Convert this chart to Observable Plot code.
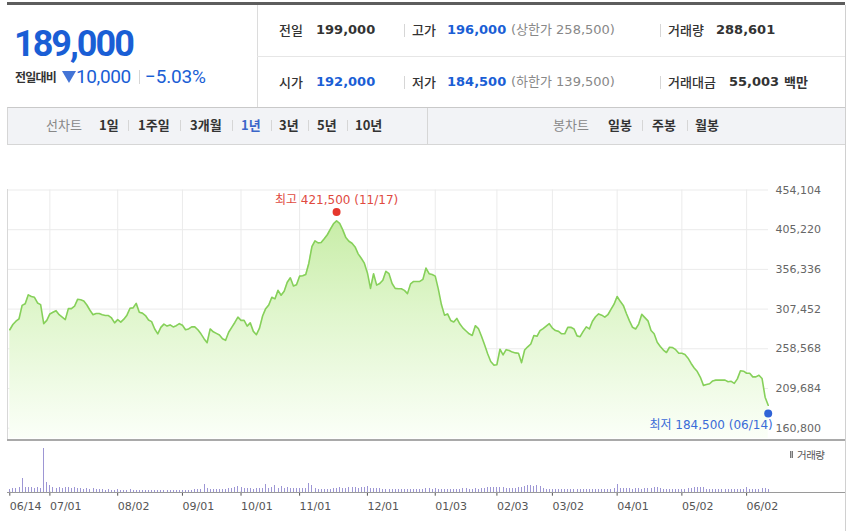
<!DOCTYPE html>
<html><head><meta charset="utf-8">
<script src="https://cdn.jsdelivr.net/npm/d3@7"></script>
<script src="https://cdn.jsdelivr.net/npm/@observablehq/plot@0.6"></script>
<style>
html,body{margin:0;padding:0;background:#fff;}
#wrap{position:relative;width:850px;height:531px;overflow:hidden;font-family:"Noto Sans CJK KR",sans-serif;color:#333;}
.a{position:absolute;white-space:nowrap;}
.ln{position:absolute;}
.num{font-family:"DejaVu Sans","Noto Sans CJK KR",sans-serif;}
.rb{font-family:Roboto,"Noto Sans CJK KR",sans-serif;}
.sep{position:absolute;width:1px;background:#d6d6d6;}
.blue{color:#1a5ed5;}
.r1{top:20px;line-height:20px;height:20px;}
.r2{top:72px;line-height:20px;height:20px;}
.tb{top:115px;line-height:20px;height:20px;font-size:13px;font-weight:700;color:#333;}
.tg{font-weight:400;color:#888;}
.lab{font-size:13px;color:#333;font-weight:500;}
.bn{font-size:13px;font-weight:700;}
.gr{font-size:13px;color:#888;}
#vol svg text{text-anchor:start;}
</style></head>
<body>
<div id="wrap">
  <!-- header -->
  <div class="ln" style="left:7px;top:2px;width:838px;height:3px;background:#5d5d5d"></div>
  <div class="a rb blue" style="left:14px;top:23.5px;line-height:40px;font-size:36px;font-weight:700;letter-spacing:-2px">189,000</div>
  <div class="a" style="left:15px;top:69px;line-height:16px;font-size:12px;font-weight:700;letter-spacing:-0.8px;color:#333">전일대비</div>
  <div class="ln" style="left:62px;top:71px;width:0;height:0;border-left:7.5px solid transparent;border-right:7.5px solid transparent;border-top:12px solid #4374d6"></div>
  <div class="a rb blue" style="left:76px;top:65px;line-height:24px;font-size:19px;letter-spacing:-0.4px">10,000</div>
  <div class="sep" style="left:139px;top:70px;height:14px"></div>
  <div class="a rb blue" style="left:145px;top:65px;line-height:24px;font-size:19px;letter-spacing:-0.2px">−5.03%</div>

  <div class="ln" style="left:257px;top:5px;width:1px;height:102px;background:#dcdcdc"></div>
  <div class="ln" style="left:257px;top:56px;width:588px;height:1px;background:#e6e6e6"></div>
  <div class="ln" style="left:845px;top:5px;width:1px;height:526px;background:#d0d0d0"></div>

  <div class="a r1 lab" style="left:279px">전일</div>
  <div class="a r1 num bn" style="left:316px">199,000</div>
  <div class="sep" style="left:404px;top:24px;height:13px"></div>
  <div class="a r1 lab" style="left:412px">고가</div>
  <div class="a r1 num bn blue" style="left:447px">196,000</div>
  <div class="a r1 num gr" style="left:511px">(상한가 258,500)</div>
  <div class="sep" style="left:660px;top:24px;height:13px"></div>
  <div class="a r1 lab" style="left:668px">거래량</div>
  <div class="a r1 num bn" style="left:716px">288,601</div>

  <div class="a r2 lab" style="left:279px">시가</div>
  <div class="a r2 num bn blue" style="left:316px">192,000</div>
  <div class="sep" style="left:404px;top:76px;height:13px"></div>
  <div class="a r2 lab" style="left:412px">저가</div>
  <div class="a r2 num bn blue" style="left:447px">184,500</div>
  <div class="a r2 num gr" style="left:511px">(하한가 139,500)</div>
  <div class="sep" style="left:660px;top:76px;height:13px"></div>
  <div class="a r2 lab" style="left:668px">거래대금</div>
  <div class="a r2 num bn" style="left:729px">55,003</div>
  <div class="a r2 lab" style="left:784px;font-weight:700">백만</div>

  <!-- tab bar -->
  <div class="ln" style="left:7px;top:107px;width:838px;background:#f2f3f6;border-top:1px solid #c9c9c9;border-bottom:1px solid #d6d6d6;border-left:1px solid #d6d6d6;box-sizing:border-box;height:38px"></div>
  <div class="ln" style="left:427px;top:108px;width:1px;height:36px;background:#d6d6d6"></div>
  <div class="a tb tg" style="left:46px">선차트</div>
  <div class="a tb" style="left:99px">1일</div>
  <div class="sep" style="left:128px;top:120px;height:11px"></div>
  <div class="a tb" style="left:138px">1주일</div>
  <div class="sep" style="left:180px;top:120px;height:11px"></div>
  <div class="a tb" style="left:190px">3개월</div>
  <div class="sep" style="left:232px;top:120px;height:11px"></div>
  <div class="a tb" style="left:241px;color:#3b66c9">1년</div>
  <div class="sep" style="left:271px;top:120px;height:11px"></div>
  <div class="a tb" style="left:279px">3년</div>
  <div class="sep" style="left:308px;top:120px;height:11px"></div>
  <div class="a tb" style="left:317px">5년</div>
  <div class="sep" style="left:347px;top:120px;height:11px"></div>
  <div class="a tb" style="left:355px">10년</div>
  <div class="a tb tg" style="left:553px">봉차트</div>
  <div class="a tb" style="left:608px">일봉</div>
  <div class="sep" style="left:642px;top:120px;height:11px"></div>
  <div class="a tb" style="left:652px">주봉</div>
  <div class="sep" style="left:687px;top:120px;height:11px"></div>
  <div class="a tb" style="left:695px">월봉</div>

  <!-- charts -->
  <div id="price" class="ln" style="left:0;top:150px;width:850px;height:290px"></div>
  <div class="ln" style="left:7px;top:189px;width:1px;height:251px;background:#d8d8d8"></div>
  <div class="ln" style="left:7px;top:439px;width:838px;height:2px;background:#a9a9a9"></div>
  <div id="vol" class="ln" style="left:0;top:440px;width:850px;height:91px"></div>
  <div class="ln" style="left:790px;top:451px;width:1px;height:7px;border-left:1px solid #777;border-right:1px solid #777;background:#bbb"></div>
  <div class="a" style="left:797px;top:447px;line-height:16px;font-size:10.5px;letter-spacing:-0.5px;color:#555">거래량</div>
</div>
<script>
// ---- data (trading days 2021-06-14 .. 2022-06-14, index 0..246) ----
const closePrice = [
  282000,288500,292500,295500,312000,314000,325000,323000,322000,315000,
  313000,289500,293500,301500,303500,305500,300500,297500,294500,308000,
  308000,311000,319500,319000,317500,312500,306000,300500,302000,302000,
  300500,299500,299500,296500,290500,294500,291500,295000,300000,308500,
  309000,314500,303500,302500,299500,294000,292000,283000,277000,285000,
  289000,286500,288000,285500,287000,289500,287500,282000,283000,285500,
  285500,282000,277000,271000,266000,283000,279500,277500,275500,271000,
  269000,279000,285000,291000,297500,293500,293500,286500,290500,280000,
  276000,284000,299000,308000,312500,322000,320000,330500,324500,329500,
  340500,346000,336000,337500,348000,348500,350000,364000,384500,391500,
  389000,389500,394000,399000,406000,412500,416000,413000,405000,395500,
  391000,388500,384000,375500,370000,364000,352000,333000,351000,337000,
  339000,343000,354000,351000,339000,333000,332500,332500,330500,326500,
  338500,341500,341500,341500,344000,358000,351000,350000,348000,332000,
  313000,300000,301500,293500,291500,296000,289000,284000,280500,277000,
  275000,287000,283500,274000,263500,252500,243000,238500,239000,258000,
  251000,257500,256500,254500,253500,253000,241500,257000,261000,264500,
  275000,274000,281000,283500,286500,289500,284000,281000,280000,277000,
  277000,285000,285000,283000,274500,273500,280000,285500,283000,292500,
  298000,301500,300000,297500,300500,307000,313500,323000,317000,312000,
  302000,293000,285000,283000,289000,301000,297000,293000,281000,277000,
  266500,261500,257000,254000,260500,260000,257500,253000,253000,251500,
  247000,240500,235000,230500,223500,213500,214500,215500,219000,220000,
  220000,220000,220000,218000,218500,216000,221500,231500,231000,228500,
  228500,224000,224000,226000,222000,199000,189000
];
const volumeThousands = [
  320,430,420,530,1500,480,520,450,400,530,
  380,4600,1070,750,480,430,500,430,460,480,
  420,500,380,430,330,410,330,420,300,280,
  250,230,240,220,230,240,220,210,230,250,
  220,210,230,200,210,220,200,210,230,200,
  210,200,220,210,200,230,210,220,200,230,
  250,300,280,850,350,300,280,300,320,300,
  330,380,420,520,560,480,380,350,400,330,
  360,380,350,820,420,450,760,420,650,400,
  540,420,380,350,380,400,420,950,750,420,
  330,300,320,280,300,350,380,450,380,420,
  480,450,500,420,480,520,620,420,380,350,
  400,330,300,280,260,300,280,320,300,280,
  300,250,280,260,300,350,420,320,380,330,
  300,280,330,300,280,300,330,380,350,320,
  300,350,330,380,420,480,520,450,500,480,
  550,430,420,380,400,450,480,650,700,720,
  650,680,600,420,330,300,280,300,280,260,
  280,300,270,250,280,300,260,280,300,270,
  250,280,300,260,280,300,380,850,420,380,
  350,400,330,380,350,330,400,360,380,520,
  540,350,300,330,280,300,330,280,300,320,
  350,400,520,540,500,480,330,300,280,320,
  300,280,330,300,280,300,330,300,330,520,
  330,300,280,320,350,420,289
];
const dateTickIndex = [0, 13, 35, 56, 75, 94, 116, 138, 158, 176, 197, 218, 239];
const dateTickLabel = ["06/14","07/01","08/02","09/01","10/01","11/01","12/01","01/03","02/03","03/02","04/01","05/02","06/02"];
const priceTicks = [160800, 209684, 258568, 307452, 356336, 405220, 454104];
const priceFloor = 148100;
const highPoint = {index: 106, value: 421500, label: "최고 421,500 (11/17)"};
const lowPoint  = {index: 246, value: 184500, label: "최저 184,500 (06/14)"};

const series = closePrice.map((v, i) => ({index: i, close: v, volume: volumeThousands[i] * 1000}));
const numFont = "DejaVu Sans, Noto Sans CJK KR, sans-serif";
const fmt = d3.format(",");
const lastIdx = closePrice.length - 1;

const P = {w: 850, h: 290, mt: 39.5, mb: 2, ml: 7, mr: 82};
const price = Plot.plot({
  width: P.w, height: P.h, marginLeft: P.ml, marginRight: P.mr, marginTop: P.mt, marginBottom: P.mb,
  style: {background: "transparent", fontFamily: numFont, fontSize: "11px", color: "#666", overflow: "visible"},
  x: {domain: [0, lastIdx], range: [9.3, 767.7], axis: null},
  y: {domain: [priceFloor, priceTicks[priceTicks.length - 1]], axis: null},
  marks: [
    Plot.ruleY(priceTicks, {stroke: "#ebebeb"}),
    Plot.ruleX(dateTickIndex.slice(1), {stroke: "#ebebeb"}),
    Plot.areaY(series, {x: "index", y1: priceFloor, y2: "close", fill: "url(#priceGrad)"}),
    Plot.lineY(series, {x: "index", y: "close", stroke: "#86d05a", strokeWidth: 1.6}),
    Plot.text(priceTicks, {y: d => d, frameAnchor: "right", textAnchor: "start", dx: 7, text: d => fmt(d), fill: "#666", fontSize: 11}),
    Plot.dot([highPoint], {x: "index", y: "value", r: 4, fill: "#e6372d", dy: -4.5}),
    Plot.text([highPoint], {x: "index", y: "value", text: "label", dy: -16, fill: "#e04a3f", fontSize: 12}),
    Plot.dot([lowPoint], {x: "index", y: "value", r: 4, fill: "#2f63d6", dy: 4.5}),
    Plot.text([lowPoint], {x: "index", y: "value", text: "label", dy: 16.5, dx: 4.5, textAnchor: "end", fill: "#3a6bd8", fontSize: 12})
  ]
});
const NS = "http://www.w3.org/2000/svg";
const defs = document.createElementNS(NS, "defs");
defs.innerHTML = `<linearGradient id="priceGrad" gradientUnits="userSpaceOnUse" x1="0" y1="${P.mt}" x2="0" y2="${P.h - P.mb}">
  <stop offset="0" stop-color="#c0ea9b"/><stop offset="0.5" stop-color="#e0f6cd"/><stop offset="1" stop-color="#fbfff8"/></linearGradient>`;
price.insertBefore(defs, price.firstChild);
document.getElementById("price").appendChild(price);

const vol = Plot.plot({
  width: 850, height: 91, marginLeft: 7, marginRight: 5, marginTop: 0, marginBottom: 39.3,
  style: {background: "transparent", fontFamily: numFont, fontSize: "11px", color: "#555", overflow: "visible"},
  x: {domain: [0, lastIdx], range: [9.3, 767.7], ticks: dateTickIndex,
      tickFormat: d => dateTickLabel[dateTickIndex.indexOf(d)], tickSize: 4, tickPadding: 6, label: null},
  y: {domain: [0, 5480000], axis: null},
  marks: [
    Plot.ruleX(series, {x: "index", y1: 0, y2: "volume", stroke: "#9d96d4", strokeWidth: 1, shapeRendering: "crispEdges"}),
    Plot.ruleY([0], {stroke: "#9a9a9a", shapeRendering: "crispEdges"})
  ]
});
document.getElementById("vol").appendChild(vol);
</script>
</body></html>
